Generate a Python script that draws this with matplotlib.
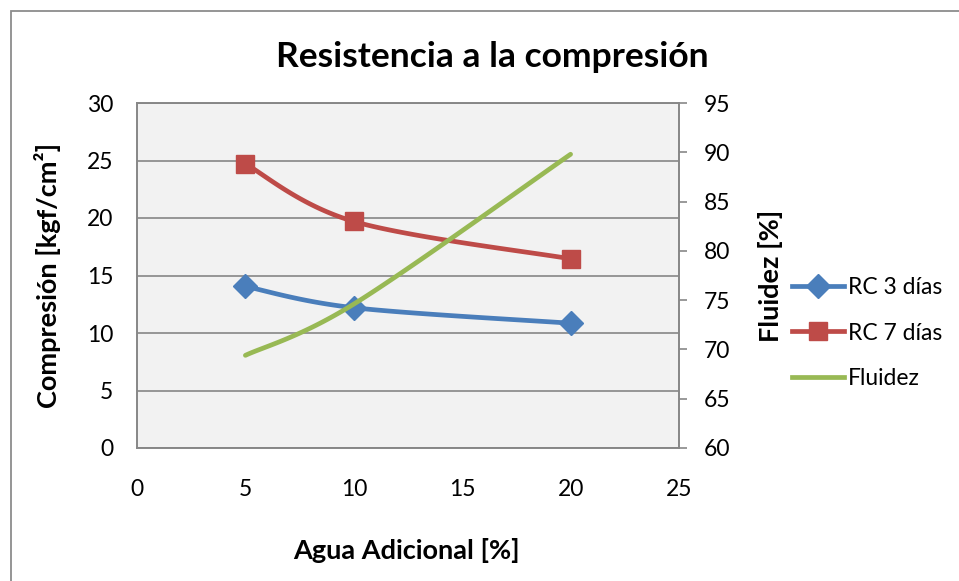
import numpy as np
import matplotlib
matplotlib.use("Agg")
import matplotlib.pyplot as plt
from matplotlib.lines import Line2D
from matplotlib.patches import Rectangle

plt.rcParams['font.family'] = ['Lato', 'DejaVu Sans']

# data
agua = [5, 10, 20]
rc3 = [14.05, 12.2, 10.85]
rc7 = [24.7, 19.7, 16.45]
fluidez = [69.4, 74.6, 89.8]

x_ticks = [0, 5, 10, 15, 20, 25]
left_ticks = [0, 5, 10, 15, 20, 25, 30]
right_ticks = [60, 65, 70, 75, 80, 85, 90, 95]

BLUE = '#4A7EBB'
RED = '#BE4B48'
GREEN = '#98B954'
GRID = '#878787'


def smooth(xs, ys, n=40):
    # excel-like smoothed line: catmull-rom turned into cubic beziers
    p = np.column_stack([xs, ys]).astype(float)
    ext = np.vstack([p[0], p, p[-1]])
    out = []
    t = np.linspace(0, 1, n)[:, None]
    for i in range(len(p) - 1):
        p0, p3 = ext[i + 1], ext[i + 2]
        c1 = p0 + (ext[i + 2] - ext[i]) / 6
        c2 = p3 - (ext[i + 3] - ext[i + 1]) / 6
        seg = ((1 - t) ** 3) * p0 + 3 * ((1 - t) ** 2) * t * c1 + 3 * (1 - t) * t ** 2 * c2 + t ** 3 * p3
        out.append(seg if i == 0 else seg[1:])
    out = np.vstack(out)
    return out[:, 0], out[:, 1]


fig = plt.figure(figsize=(9.59, 5.81), dpi=100)
fig.patches.append(Rectangle((11 / 959, -0.1), 1.2, 1 - 11 / 581 + 0.1,
                             transform=fig.transFigure, fill=False,
                             edgecolor='#8C8C8C', linewidth=1.3))

ax = fig.add_axes([137 / 959, 1 - 448 / 581, 542 / 959, 345 / 581])
ax.set_facecolor('#F2F2F2')
ax2 = ax.twinx()

ax.plot(*smooth(agua, rc3), color=BLUE, lw=3.4, solid_capstyle='round', zorder=3)
ax.plot(agua, rc3, ls='none', color=BLUE, marker='D', ms=12, zorder=4)
ax.plot(*smooth(agua, rc7), color=RED, lw=3.4, solid_capstyle='round', zorder=3)
ax.plot(agua, rc7, ls='none', color=RED, marker='s', ms=13, zorder=4)
ax2.plot(*smooth(agua, fluidez), color=GREEN, lw=3.4, solid_capstyle='round', zorder=3)

ax.set_xlim(0, 25)
ax.set_ylim(0, 30)
ax2.set_ylim(60, 95)
ax.set_xticks(x_ticks)
ax.set_yticks(left_ticks)
ax2.set_yticks(right_ticks)
ax.grid(axis='y', color=GRID, lw=1.2)
ax.set_axisbelow(True)

for a in (ax, ax2):
    for s in a.spines.values():
        s.set_color(GRID)
        s.set_linewidth(1.2)
ax.tick_params(axis='both', length=0, labelsize=16.5, pad=17)
ax.tick_params(axis='x', pad=22)
ax2.tick_params(axis='y', length=6, width=1.2, color=GRID, direction='out', labelsize=16.5, pad=12)

ax.set_xlabel('Agua Adicional [%]', fontsize=19.5, fontweight='bold')
ax.set_ylabel('Compresión [kgf/cm²]', fontsize=19.5, fontweight='bold')
ax2.set_ylabel('Fluidez [%]', fontsize=19.5, fontweight='bold')
ax.xaxis.set_label_coords(0.498, -0.262)
ax.yaxis.set_label_coords(-0.140, 0.5)
ax2.yaxis.set_label_coords(1.145, 0.5)

fig.text(0.513, 0.902, 'Resistencia a la compresión', ha='center', va='center',
         fontsize=25.5, fontweight='bold')

handles = [
    Line2D([], [], color=BLUE, lw=3.4, marker='D', ms=12),
    Line2D([], [], color=RED, lw=3.4, marker='s', ms=13),
    Line2D([], [], color=GREEN, lw=3.4),
]
fig.legend(handles, ['RC 3 días', 'RC 7 días', 'Fluidez'], loc='center left',
           bbox_to_anchor=(771 / 959, 1 - 333 / 581), frameon=False, fontsize=16.5,
           handlelength=2.27, handletextpad=0.2, labelspacing=1.05)

fig.savefig('out.png', dpi=100)
